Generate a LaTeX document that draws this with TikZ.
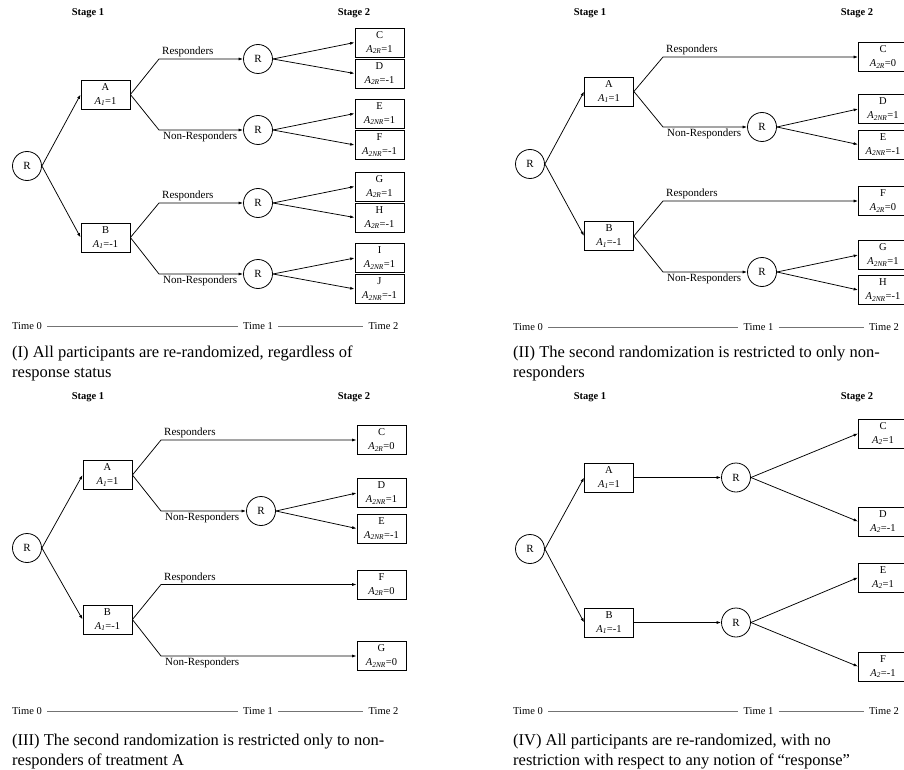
\documentclass[tikz,border=0pt]{standalone}
\usepackage{fontspec}
\setmainfont{Liberation Serif}
\usetikzlibrary{arrows.meta}
\newcommand{\Asb}[2]{\textit{A}\textsubscript{\textit{#1}}=#2}
\tikzset{
  rnode/.style={circle, draw, line width=0.8pt, minimum size=29pt, inner sep=0pt, font=\fontsize{11}{12}\selectfont},
  tbox/.style={draw, line width=0.8pt, minimum width=49pt, minimum height=29pt, inner sep=1pt, align=center, font=\fontsize{10.5}{14}\selectfont},
  conn/.style={-{Latex[length=4.5pt,width=3pt]}, line width=0.75pt},
  seg/.style={line width=0.75pt},
  lbl/.style={font=\fontsize{11}{12}\selectfont, inner sep=0pt, anchor=base west},
  stagelbl/.style={font=\bfseries\fontsize{10.5}{12}\selectfont, inner sep=0pt},
  timelbl/.style={font=\fontsize{10.5}{12}\selectfont, inner sep=0pt},
  timeline/.style={draw=black!55, line width=0.9pt, shorten <=5pt, shorten >=5pt},
  captxt/.style={font=\fontsize{16.5}{20}\selectfont, inner sep=0pt, anchor=base west},
}
\begin{document}
\begin{tikzpicture}[x=1pt,y=-1pt]
\useasboundingbox (0,0) rectangle (904,770);

% ================= Panel I =================
\node[stagelbl] (s1a) at (88,13) {Stage 1};
\node[stagelbl] (s2a) at (354,13) {Stage 2};
\node[rnode] (r0a) at (27,166) {R};
\node[tbox] (Aa) at (105.5,94.5) {A\\\Asb{1}{1}};
\node[tbox] (Ba) at (105.5,237.5) {B\\\Asb{1}{-1}};
\coordinate (k1a) at (159,59);
\coordinate (k2a) at (159,130);
\coordinate (k3a) at (159,203);
\coordinate (k4a) at (159,274);
\node[rnode] (r1a) at (258,59) {R};
\node[rnode] (r2a) at (258,130) {R};
\node[rnode] (r3a) at (258,203) {R};
\node[rnode] (r4a) at (258,274) {R};
\node[tbox] (Ca) at (379.5,42.5) {C\\\Asb{2R}{1}};
\node[tbox] (Da) at (379.5,73.5) {D\\\Asb{2R}{-1}};
\node[tbox] (Ea) at (379.5,113.5) {E\\\Asb{2NR}{1}};
\node[tbox] (Fa) at (379.5,145) {F\\\Asb{2NR}{-1}};
\node[tbox] (Ga) at (379.5,186.5) {G\\\Asb{2R}{1}};
\node[tbox] (Ha) at (379.5,217.5) {H\\\Asb{2R}{-1}};
\node[tbox] (Ia) at (379.5,258) {I\\\Asb{2NR}{1}};
\node[tbox] (Ja) at (379.5,289) {J\\\Asb{2NR}{-1}};
\draw[conn] (r0a.east) -- (Aa.west);
\draw[conn] (r0a.east) -- (Ba.west);
\draw[conn] (Aa.east) -- (k1a) -- (r1a);
\draw[conn] (Aa.east) -- (k2a) -- (r2a);
\draw[conn] (Ba.east) -- (k3a) -- (r3a);
\draw[conn] (Ba.east) -- (k4a) -- (r4a);
\draw[conn] (r1a.east) -- (Ca.west);
\draw[conn] (r1a.east) -- (Da.west);
\draw[conn] (r2a.east) -- (Ea.west);
\draw[conn] (r2a.east) -- (Fa.west);
\draw[conn] (r3a.east) -- (Ga.west);
\draw[conn] (r3a.east) -- (Ha.west);
\draw[conn] (r4a.east) -- (Ia.west);
\draw[conn] (r4a.east) -- (Ja.west);
\node[lbl] (l1a) at (162,54.5) {Responders};
\node[lbl] (l2a) at (163,139.5) {Non-Responders};
\node[lbl] (l3a) at (162,198.5) {Responders};
\node[lbl] (l4a) at (163,283.5) {Non-Responders};
\node[timelbl] (t0a) at (27,326) {Time 0};
\node[timelbl] (t1a) at (258,326) {Time 1};
\node[timelbl] (t2a) at (383.5,326) {Time 2};
\draw[timeline] (t0a) -- (t1a);
\draw[timeline] (t1a) -- (t2a);
\node[captxt] (c1a) at (12,357) {(I) All participants are re-randomized, regardless of};
\node[captxt] (c2a) at (12,377) {response status};

% ================= Panel II =================
\node[stagelbl] (s1b) at (590,13) {Stage 1};
\node[stagelbl] (s2b) at (857,13) {Stage 2};
\node[rnode] (r0b) at (530,164) {R};
\node[tbox] (Ab) at (609,91.5) {A\\\Asb{1}{1}};
\node[tbox] (Bb) at (609,236) {B\\\Asb{1}{-1}};
\coordinate (k1b) at (663,57);
\coordinate (k2b) at (663,127);
\coordinate (k3b) at (663,201);
\coordinate (k4b) at (663,272);
\node[rnode] (r2b) at (762,127) {R};
\node[rnode] (r4b) at (762,272) {R};
\node[tbox] (Cb) at (883,57) {C\\\Asb{2R}{0}};
\node[tbox] (Db) at (883,109) {D\\\Asb{2NR}{1}};
\node[tbox] (Eb) at (883,144.5) {E\\\Asb{2NR}{-1}};
\node[tbox] (Fb) at (883,201) {F\\\Asb{2R}{0}};
\node[tbox] (Gb) at (883,255) {G\\\Asb{2NR}{1}};
\node[tbox] (Hb) at (883,290) {H\\\Asb{2NR}{-1}};
\draw[conn] (r0b.east) -- (Ab.west);
\draw[conn] (r0b.east) -- (Bb.west);
\draw[conn] (Ab.east) -- (k1b) -- (Cb.west);
\draw[conn] (Ab.east) -- (k2b) -- (r2b);
\draw[conn] (Bb.east) -- (k3b) -- (Fb.west);
\draw[conn] (Bb.east) -- (k4b) -- (r4b);
\draw[conn] (r2b.east) -- (Db.west);
\draw[conn] (r2b.east) -- (Eb.west);
\draw[conn] (r4b.east) -- (Gb.west);
\draw[conn] (r4b.east) -- (Hb.west);
\node[lbl] (l1b) at (666,52.5) {Responders};
\node[lbl] (l2b) at (667,136.5) {Non-Responders};
\node[lbl] (l3b) at (666,196.5) {Responders};
\node[lbl] (l4b) at (667,281.5) {Non-Responders};
\node[timelbl] (t0b) at (528,327) {Time 0};
\node[timelbl] (t1b) at (758.5,327) {Time 1};
\node[timelbl] (t2b) at (884,327) {Time 2};
\draw[timeline] (t0b) -- (t1b);
\draw[timeline] (t1b) -- (t2b);
\node[captxt] (c1b) at (513,357) {(II) The second randomization is restricted to only non-};
\node[captxt] (c2b) at (513,377) {responders};

% ================= Panel III =================
\node[stagelbl] (s1c) at (88,397) {Stage 1};
\node[stagelbl] (s2c) at (354,397) {Stage 2};
\node[rnode] (r0c) at (27,548) {R};
\node[tbox] (Ac) at (107.5,475) {A\\\Asb{1}{1}};
\node[tbox] (Bc) at (107.5,619.5) {B\\\Asb{1}{-1}};
\coordinate (k1c) at (161,440);
\coordinate (k2c) at (161,511);
\coordinate (k3c) at (161,584.5);
\coordinate (k4c) at (161,656);
\node[rnode] (r2c) at (261,511) {R};
\node[tbox] (Cc) at (381.5,440) {C\\\Asb{2R}{0}};
\node[tbox] (Dc) at (381.5,493) {D\\\Asb{2NR}{1}};
\node[tbox] (Ec) at (381.5,528.5) {E\\\Asb{2NR}{-1}};
\node[tbox] (Fc) at (381.5,584.5) {F\\\Asb{2R}{0}};
\node[tbox] (Gc) at (381.5,656) {G\\\Asb{2NR}{0}};
\draw[conn] (r0c.east) -- (Ac.west);
\draw[conn] (r0c.east) -- (Bc.west);
\draw[conn] (Ac.east) -- (k1c) -- (Cc.west);
\draw[conn] (Ac.east) -- (k2c) -- (r2c);
\draw[conn] (Bc.east) -- (k3c) -- (Fc.west);
\draw[conn] (Bc.east) -- (k4c) -- (Gc.west);
\draw[conn] (r2c.east) -- (Dc.west);
\draw[conn] (r2c.east) -- (Ec.west);
\node[lbl] (l1c) at (164,435.5) {Responders};
\node[lbl] (l2c) at (165,520.5) {Non-Responders};
\node[lbl] (l3c) at (164,580) {Responders};
\node[lbl] (l4c) at (165,665.5) {Non-Responders};
\node[timelbl] (t0c) at (27,711) {Time 0};
\node[timelbl] (t1c) at (258,711) {Time 1};
\node[timelbl] (t2c) at (383.5,711) {Time 2};
\draw[timeline] (t0c) -- (t1c);
\draw[timeline] (t1c) -- (t2c);
\node[captxt] (c1c) at (12,745) {(III) The second randomization is restricted only to non-};
\node[captxt] (c2c) at (12,765) {responders of treatment A};

% ================= Panel IV =================
\node[stagelbl] (s1d) at (590,397) {Stage 1};
\node[stagelbl] (s2d) at (857,397) {Stage 2};
\node[rnode] (r0d) at (530,549) {R};
\node[tbox] (Ad) at (609,477.5) {A\\\Asb{1}{1}};
\node[tbox] (Bd) at (609,622.5) {B\\\Asb{1}{-1}};
\node[rnode] (r1d) at (736,477.5) {R};
\node[rnode] (r2d) at (736,622.5) {R};
\node[tbox] (Cd) at (883,433.5) {C\\\Asb{2}{1}};
\node[tbox] (Dd) at (883,521.5) {D\\\Asb{2}{-1}};
\node[tbox] (Ed) at (883,577.5) {E\\\Asb{2}{1}};
\node[tbox] (Fd) at (883,666.5) {F\\\Asb{2}{-1}};
\draw[conn] (r0d.east) -- (Ad.west);
\draw[conn] (r0d.east) -- (Bd.west);
\draw[conn] (Ad.east) -- (r1d);
\draw[conn] (Bd.east) -- (r2d);
\draw[conn] (r1d.east) -- (Cd.west);
\draw[conn] (r1d.east) -- (Dd.west);
\draw[conn] (r2d.east) -- (Ed.west);
\draw[conn] (r2d.east) -- (Fd.west);
\node[timelbl] (t0d) at (528,711) {Time 0};
\node[timelbl] (t1d) at (758.5,711) {Time 1};
\node[timelbl] (t2d) at (884,711) {Time 2};
\draw[timeline] (t0d) -- (t1d);
\draw[timeline] (t1d) -- (t2d);
\node[captxt] (c1d) at (513,745) {(IV) All participants are re-randomized, with no};
\node[captxt] (c2d) at (513,765) {restriction with respect to any notion of “response”};
\end{tikzpicture}
\end{document}
